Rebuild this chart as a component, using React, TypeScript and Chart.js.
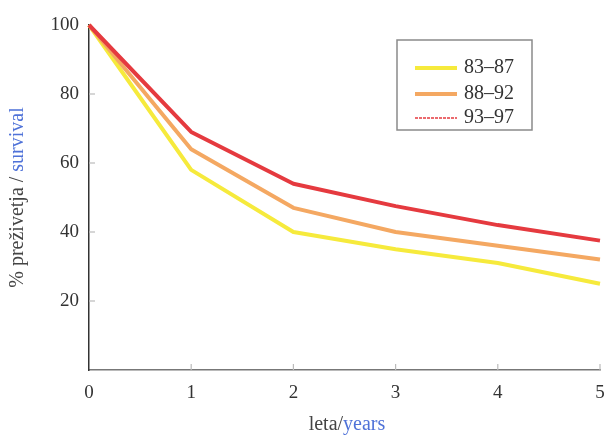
import React, { useEffect, useRef } from "react";
import { Chart, registerables } from "chart.js";

Chart.register(...registerables);

const years = [0, 1, 2, 3, 4, 5];
const labels = ["83–87", "88–92", "93–97"];
const s8387 = [100, 58, 40, 35, 31, 25];
const s8892 = [100, 64, 47, 40, 36, 32];
const s9397 = [100, 69, 54, 47.5, 42, 37.5];
const yTicks = [20, 40, 60, 80, 100];

const FONT = "'Liberation Serif', 'DejaVu Serif', serif";
const colors = ["#f6ea3c", "#f4a862", "#e53a3f"];

const overlayPlugin = {
  id: "overlay",
  afterDatasetsDraw(chart: any) {
    const { ctx, chartArea, scales } = chart;
    const x = scales.x;
    const y = scales.y;
    ctx.save();
    // inward ticks
    ctx.strokeStyle = "#bbbbbb";
    ctx.lineWidth = 1.2;
    for (const t of [20, 40, 60, 80]) {
      const py = y.getPixelForValue(t);
      ctx.beginPath();
      ctx.moveTo(chartArea.left, py);
      ctx.lineTo(chartArea.left + 6, py);
      ctx.stroke();
    }
    for (const t of [1, 2, 3, 4, 5]) {
      const px = x.getPixelForValue(t);
      ctx.beginPath();
      ctx.moveTo(px, chartArea.bottom);
      ctx.lineTo(px, chartArea.bottom - 6);
      ctx.stroke();
    }
    // legend
    const bx = 397, by = 40, bw = 135, bh = 90;
    ctx.fillStyle = "#ffffff";
    ctx.fillRect(bx, by, bw, bh);
    ctx.strokeStyle = "#8a8a8a";
    ctx.lineWidth = 1.5;
    ctx.strokeRect(bx, by, bw, bh);
    const rows = [68, 94, 118];
    chart.data.datasets.forEach((ds: any, i: number) => {
      const ry = rows[i];
      ctx.strokeStyle = ds.borderColor;
      if (i === 2) {
        ctx.lineWidth = 1.5;
        ctx.setLineDash([3, 1]);
      } else {
        ctx.lineWidth = 4;
        ctx.setLineDash([]);
      }
      ctx.beginPath();
      ctx.moveTo(415, ry);
      ctx.lineTo(457, ry);
      ctx.stroke();
      ctx.setLineDash([]);
      ctx.fillStyle = "#333333";
      ctx.font = `20px ${FONT}`;
      ctx.textAlign = "left";
      ctx.textBaseline = "middle";
      ctx.fillText(ds.label, 464, ry);
    });
    // axis titles
    ctx.font = `20px ${FONT}`;
    ctx.textBaseline = "middle";
    const blue = "#4f72d8";
    const dark = "#444444";
    // x title
    const xa = "leta/";
    const xb = "years";
    const wa = ctx.measureText(xa).width;
    const wb = ctx.measureText(xb).width;
    const cx = 347;
    const sx = cx - (wa + wb) / 2;
    ctx.textAlign = "left";
    ctx.fillStyle = dark;
    ctx.fillText(xa, sx, 425);
    ctx.fillStyle = blue;
    ctx.fillText(xb, sx + wa, 425);
    // y title
    const ya = "% preživetja / ";
    const yb = "survival";
    const ywa = ctx.measureText(ya).width;
    const ywb = ctx.measureText(yb).width;
    ctx.translate(18, (chartArea.top + chartArea.bottom) / 2);
    ctx.rotate(-Math.PI / 2);
    const sy = -(ywa + ywb) / 2;
    ctx.fillStyle = dark;
    ctx.fillText(ya, sy, 0);
    ctx.fillStyle = blue;
    ctx.fillText(yb, sy + ywa, 0);
    ctx.restore();
  },
};

export default function App() {
  const ref = useRef<HTMLCanvasElement>(null);
  useEffect(() => {
    const series = [s8387, s8892, s9397];
    const chart = new Chart(ref.current!, {
      type: "line",
      data: {
        datasets: series.map((s, i) => ({
          label: labels[i],
          data: s.map((v, j) => ({ x: years[j], y: v })),
          borderColor: colors[i],
          backgroundColor: colors[i],
          borderWidth: 4,
          pointRadius: 0,
          tension: 0,
          fill: false,
          clip: false as any,
          order: 2 - i,
          borderJoinStyle: "round" as any,
        })),
      },
      options: {
        animation: false,
        responsive: false,
        maintainAspectRatio: false,
        layout: { padding: { top: 25, right: 7, left: 0, bottom: 0 } },
        plugins: { legend: { display: false }, tooltip: { enabled: false } },
        scales: {
          x: {
            type: "linear",
            min: 0,
            max: 5,
            grid: { display: false, drawTicks: false },
            border: { display: true, color: "#777777", width: 1.5 },
            ticks: {
              stepSize: 1,
              padding: 12,
              color: "#333333",
              font: { family: FONT, size: 19 },
              maxRotation: 0,
            },
            afterFit: (s: any) => {
              s.height = 66;
              s.paddingLeft = 0;
              s.paddingRight = 0;
            },
          },
          y: {
            type: "linear",
            min: 0,
            max: 100,
            grid: { display: false, drawTicks: false },
            border: { display: true, color: "#333333", width: 1.5 },
            ticks: {
              stepSize: 20,
              padding: 10,
              color: "#333333",
              font: { family: FONT, size: 19 },
              callback: (v: any) => (yTicks.includes(Number(v)) ? String(v) : ""),
            },
            afterFit: (s: any) => {
              s.width = 89;
              s.paddingTop = 0;
              s.paddingBottom = 0;
            },
          },
        },
      },
      plugins: [overlayPlugin],
    });
    return () => chart.destroy();
  }, []);
  return (
    <div style={{ position: "fixed", left: 0, top: 0, width: 607, height: 436, background: "#fff" }}>
      <canvas ref={ref} width={607} height={436} style={{ width: 607, height: 436 }} />
    </div>
  );
}
